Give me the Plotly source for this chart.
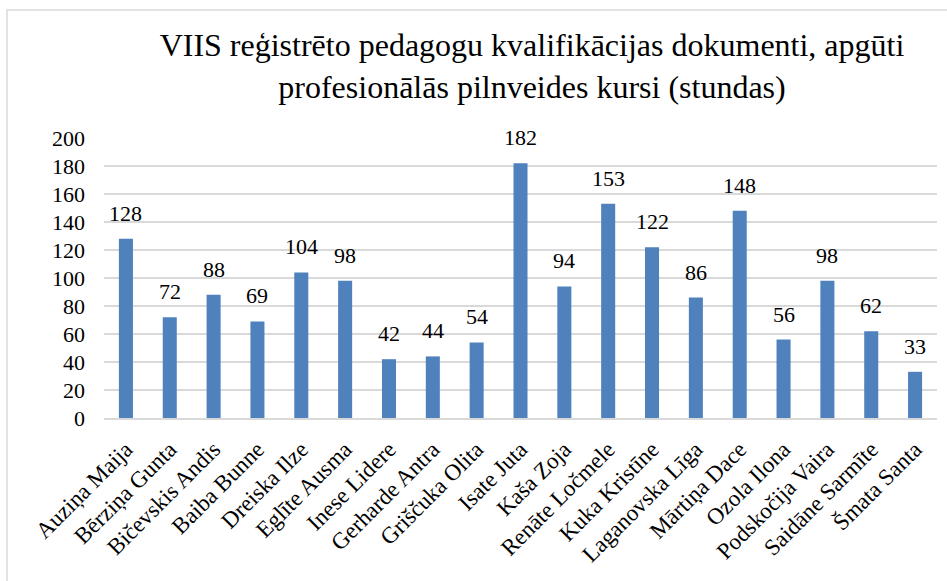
import plotly.graph_objects as go

names = ["Auziņa Maija", "Bērziņa Gunta", "Bičevskis Andis", "Baiba Bunne", "Dreiska Ilze",
         "Eglīte Ausma", "Inese Lidere", "Gerharde Antra", "Griščuka Olita", "Isate Juta",
         "Kaša Zoja", "Renāte Ločmele", "Kuka Kristīne", "Laganovska Līga", "Mārtiņa Dace",
         "Ozola Ilona", "Podskočija Vaira", "Saidāne Sarmīte", "Šmata Santa"]
hours = [128, 72, 88, 69, 104, 98, 42, 44, 54, 182, 94, 153, 122, 86, 148, 56, 98, 62, 33]
y_ticks = [0, 20, 40, 60, 80, 100, 120, 140, 160, 180, 200]

FONT = "Liberation Serif"

fig = go.Figure()
fig.add_trace(go.Bar(x=names, y=hours, marker=dict(color="#4F81BD", line=dict(width=0)),
                     width=0.32, hoverinfo="x+y"))

for n, v in zip(names, hours):
    fig.add_annotation(x=n, y=v, text=str(v), showarrow=False, yanchor="bottom",
                       yshift=11, font=dict(family=FONT, size=22, color="#000000"))

W, H = 947, 581
L, R, T, B = 104, 10, 138, 163
pw = W - L - R
ph = H - T - B

def px_x(p):
    return (p - L) / pw

def px_y(p):
    return (H - B - p) / ph

fig.add_shape(type="rect", xref="paper", yref="paper",
              x0=px_x(7), x1=px_x(960), y0=px_y(600), y1=px_y(10),
              line=dict(color="#D9D9D9", width=1.5), fillcolor="rgba(0,0,0,0)", layer="below")

fig.update_layout(
    width=W, height=H,
    margin=dict(l=L, r=R, t=T, b=B),
    paper_bgcolor="white", plot_bgcolor="white",
    showlegend=False,
    title=dict(text="VIIS reģistrēto pedagogu kvalifikācijas dokumenti, apgūti<br>profesionālās pilnveides kursi (stundas)",
               x=532 / W, xanchor="center", xref="container",
               y=1 - 56 / H, yanchor="top", yref="container",
               font=dict(family=FONT, size=32, color="#000000")),
    font=dict(family=FONT, color="#000000"),
    xaxis=dict(tickangle=-45, tickfont=dict(family=FONT, size=23, color="#000000"),
               showgrid=False, showline=True, linecolor="#D9D9D9", linewidth=1.5,
               ticks="", ticklen=0, ticklabelstandoff=7),
    yaxis=dict(range=[0, 200], tickvals=y_ticks, ticktext=[str(t) for t in y_ticks],
               tickfont=dict(family=FONT, size=22, color="#000000"),
               showgrid=True, gridcolor="#D9D9D9", gridwidth=1.5, zeroline=False,
               showline=False, ticks="", ticklabelstandoff=18),
    bargap=0.68,
)

fig.write_html("out.html", config={"displayModeBar": False},
               post_script="document.body.style.margin='0px';")
